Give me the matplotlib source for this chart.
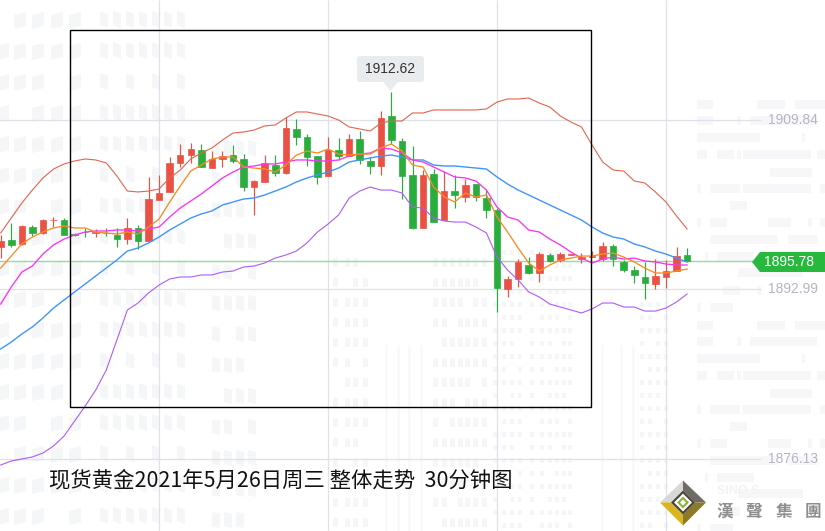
import matplotlib
matplotlib.use('Agg')
import matplotlib.pyplot as plt
from matplotlib.patches import Polygon, Rectangle, FancyBboxPatch

plt.rcParams['font.family'] = ['Noto Sans CJK SC', 'DejaVu Sans']

opens = [1897.20, 1897.89, 1897.50, 1899.19, 1898.56, 1899.88, 1899.88, 1898.46, 1898.72, 1898.61, 1898.64,
         1898.42, 1897.99, 1899.09, 1897.82, 1901.87, 1902.67, 1905.55, 1906.34, 1906.84, 1905.05, 1905.95,
         1906.34, 1905.95, 1903.16, 1903.66, 1905.35, 1904.55, 1908.93, 1908.13, 1906.24, 1904.26, 1906.84,
         1906.24, 1907.93, 1905.75, 1905.25, 1910.22, 1907.73, 1904.36, 1899.09, 1904.45, 1899.88, 1902.76,
         1902.17, 1903.46, 1902.07, 1900.88, 1893.02, 1894.02, 1895.41, 1894.61, 1896.40, 1895.91, 1896.43,
         1896.01, 1896.20, 1896.01, 1897.30, 1895.71, 1894.91, 1894.22, 1893.52, 1894.22, 1894.81, 1896.40]
closes = [1897.79, 1897.40, 1899.29, 1898.59, 1899.88, 1899.93, 1898.42, 1898.42, 1898.69, 1898.66, 1898.59,
          1898.02, 1899.09, 1897.82, 1901.97, 1902.57, 1905.55, 1906.34, 1906.94, 1905.18, 1905.95, 1906.24,
          1905.75, 1903.19, 1903.76, 1905.55, 1904.58, 1909.03, 1908.13, 1906.17, 1904.19, 1906.84, 1906.24,
          1907.93, 1905.85, 1905.25, 1910.02, 1907.83, 1904.26, 1899.09, 1904.36, 1899.68, 1902.76, 1902.37,
          1903.36, 1902.17, 1900.88, 1893.15, 1894.02, 1895.71, 1894.61, 1896.50, 1895.81, 1896.50, 1896.50,
          1896.20, 1896.30, 1897.30, 1896.01, 1894.91, 1894.42, 1893.62, 1894.32, 1894.81, 1896.30, 1895.78]
highs = [1898.39, 1899.58, 1899.39, 1899.39, 1899.98, 1900.18, 1900.08, 1898.59, 1899.06, 1898.99, 1899.09,
         1899.06, 1900.08, 1899.39, 1904.16, 1904.36, 1906.14, 1907.44, 1907.54, 1907.44, 1906.74, 1906.74,
         1907.34, 1906.44, 1903.86, 1906.34, 1906.34, 1910.15, 1909.92, 1908.43, 1906.24, 1908.10, 1908.03,
         1908.43, 1908.73, 1906.11, 1910.72, 1912.62, 1908.03, 1907.24, 1904.85, 1904.95, 1904.75, 1904.36,
         1903.96, 1903.46, 1902.86, 1901.07, 1894.32, 1896.00, 1896.20, 1896.70, 1896.60, 1896.70, 1896.50,
         1896.60, 1896.80, 1897.70, 1897.50, 1895.91, 1895.31, 1895.71, 1896.00, 1895.91, 1897.20, 1897.10]
lows = [1896.10, 1897.20, 1897.40, 1898.29, 1898.49, 1899.19, 1898.39, 1898.32, 1898.22, 1898.22, 1898.29,
        1897.23, 1897.50, 1896.97, 1897.72, 1901.87, 1902.67, 1905.18, 1905.58, 1905.18, 1905.05, 1905.18,
        1905.58, 1902.79, 1900.38, 1903.66, 1904.26, 1904.45, 1907.34, 1905.28, 1903.46, 1904.26, 1905.85,
        1906.24, 1905.45, 1904.45, 1904.36, 1907.44, 1901.97, 1898.99, 1899.09, 1899.68, 1899.88, 1901.07,
        1901.67, 1901.77, 1900.08, 1890.74, 1892.23, 1893.22, 1894.51, 1893.72, 1895.71, 1895.71, 1896.40,
        1895.61, 1896.20, 1895.81, 1895.31, 1894.71, 1893.62, 1892.03, 1893.02, 1893.12, 1894.81, 1895.78]

# bollinger bands and moving averages
upper = [1898.59, 1900.08, 1901.57, 1902.86, 1904.06, 1904.95, 1905.45, 1905.75, 1905.95, 1905.85, 1905.55,
         1904.26, 1902.76, 1902.67, 1902.76, 1902.96, 1904.06, 1904.85, 1905.95, 1906.54, 1907.04, 1907.83,
         1908.53, 1908.63, 1908.83, 1909.23, 1909.33, 1910.02, 1910.62, 1910.62, 1910.42, 1910.22, 1909.82,
         1909.13, 1908.93, 1908.73, 1909.52, 1909.72, 1909.72, 1910.52, 1910.52, 1910.82, 1910.82, 1910.82,
         1910.82, 1910.82, 1910.92, 1911.61, 1911.91, 1911.91, 1912.01, 1911.51, 1911.11, 1910.22, 1909.62,
         1909.13, 1907.34, 1905.65, 1904.85, 1904.75, 1903.76, 1903.56, 1902.67, 1901.67, 1900.28, 1898.99]
ma_fast = [1895.11, 1896.30, 1897.50, 1898.19, 1898.69, 1899.09, 1899.29, 1899.09, 1899.09, 1898.69, 1898.59,
           1898.49, 1898.69, 1898.49, 1899.19, 1899.98, 1901.67, 1903.26, 1904.75, 1905.35, 1905.95, 1906.14,
           1906.14, 1905.15, 1905.05, 1904.95, 1904.65, 1905.35, 1906.34, 1906.74, 1906.54, 1906.94, 1906.44,
           1906.34, 1906.44, 1906.44, 1907.04, 1907.44, 1906.74, 1905.35, 1905.15, 1903.16, 1902.17, 1901.67,
           1902.57, 1902.17, 1902.37, 1900.18, 1898.69, 1897.10, 1895.61, 1894.81, 1895.41, 1895.91, 1896.10,
           1896.30, 1896.30, 1896.50, 1896.60, 1896.20, 1895.71, 1895.11, 1894.61, 1894.61, 1894.81, 1895.01]
ma_mid = [1891.53, 1893.22, 1894.71, 1895.31, 1896.50, 1897.40, 1897.99, 1898.39, 1898.69, 1898.79, 1898.79,
          1898.89, 1898.89, 1898.79, 1898.99, 1899.19, 1900.18, 1901.07, 1901.77, 1902.47, 1903.26, 1904.06,
          1904.65, 1905.15, 1905.25, 1905.45, 1905.45, 1905.65, 1905.85, 1905.85, 1905.75, 1905.75, 1905.85,
          1906.24, 1906.44, 1906.54, 1907.04, 1906.94, 1906.54, 1905.85, 1905.65, 1905.15, 1904.65, 1904.16,
          1904.06, 1903.76, 1902.86, 1901.17, 1900.18, 1899.88, 1898.89, 1898.69, 1897.99, 1897.40, 1896.70,
          1896.10, 1895.61, 1896.00, 1896.20, 1896.00, 1896.10, 1895.81, 1895.71, 1895.51, 1895.41, 1895.41]
ma_slow = [1887.06, 1887.75, 1888.55, 1889.25, 1890.14, 1891.13, 1891.93, 1892.73, 1893.52, 1894.32, 1895.11,
           1895.91, 1896.80, 1897.10, 1897.60, 1898.19, 1898.89, 1899.48, 1900.08, 1900.48, 1900.78, 1901.37,
           1901.67, 1901.97, 1902.07, 1902.37, 1902.76, 1903.16, 1903.66, 1904.06, 1904.36, 1904.65, 1905.05,
           1905.65, 1905.85, 1906.05, 1906.24, 1906.34, 1906.14, 1905.85, 1905.85, 1905.35, 1905.25, 1905.25,
           1905.15, 1905.05, 1904.95, 1904.16, 1903.46, 1902.86, 1902.37, 1901.87, 1901.37, 1900.88, 1900.38,
           1899.88, 1899.19, 1898.59, 1898.19, 1897.99, 1897.50, 1897.20, 1896.80, 1896.50, 1896.10, 1895.71]
lower = [1875.53, 1875.93, 1876.13, 1876.33, 1876.72, 1877.42, 1878.41, 1879.90, 1881.39, 1882.98, 1884.97,
         1887.95, 1890.94, 1891.63, 1892.63, 1893.42, 1894.02, 1894.22, 1894.22, 1894.42, 1894.42, 1894.71,
         1894.81, 1895.21, 1895.31, 1895.61, 1896.10, 1896.40, 1896.80, 1897.60, 1898.69, 1899.48, 1900.38,
         1902.07, 1902.76, 1903.16, 1902.86, 1902.86, 1902.57, 1901.17, 1901.07, 1900.08, 1899.78, 1899.68,
         1899.68, 1899.19, 1898.59, 1896.20, 1894.91, 1893.92, 1892.73, 1892.23, 1891.53, 1891.23, 1890.94,
         1890.64, 1891.04, 1891.63, 1891.63, 1891.23, 1891.23, 1890.83, 1890.83, 1891.13, 1891.73, 1892.53]

y_ticks = [1909.84, 1892.99, 1876.13]
x_grid = [15, 31, 47, 63]
last_price = 1895.78
peak_price = 1912.62
title = '现货黄金2021年5月26日周三 整体走势  30分钟图'

RED = '#ea5145'
GREEN = '#29ad3c'
GRID = '#e0e0e8'
WATER = '#f5f6f8'

fig = plt.figure(figsize=(8.25, 5.31), dpi=100)

# pale building watermark, pixel coordinates
bg = fig.add_axes([0, 0, 1, 1], zorder=0)
bg.set_xlim(0, 825)
bg.set_ylim(531, 0)
bg.axis('off')


def window(x, y, w, h, slant=0.0):
    bg.add_patch(Polygon([(x, y + slant), (x + w, y), (x + w, y + h), (x, y + h + slant)],
                         fc=WATER, ec='none'))


for r, y in enumerate(range(12, 525, 31)):
    for c, x in enumerate([-3, 14, 32, 51, 69]):
        if (r * 3 + c * 5) % 7 != 0:
            window(x, y, 12, 14, 3)
    for c, x in enumerate([100, 113, 126, 139, 152, 164, 177]):
        if (r * 2 + c * 3) % 6 != 1:
            window(x, y + 2, 8, 14, -3)
    for c, x in enumerate([212, 224, 236, 248]):
        if (r + c * 2) % 5 != 2 and y > 120:
            window(x, y + 6, 8, 14, -2)
for r, y in enumerate(range(258, 525, 20)):
    for c, x in enumerate([333, 345, 353, 363, 433, 442, 450, 458, 465, 473, 482]):
        if (r * 2 + c) % 9 != 3:
            window(x, y, 5, 9)
for r, y in enumerate(range(250, 530, 13)):
    for c, x in enumerate([493, 502, 510, 518, 530, 540, 548, 555, 562, 568, 640, 648, 656, 664]):
        if (r + c * 2) % 8 != 5 and (x < 600 or y > 300):
            window(x, y, 4, 5)
for x in [385, 397, 408, 420, 601, 620, 632]:
    bg.add_patch(Rectangle((x, 345), 3, 186, fc='#f9f9fb', ec='none'))
bars = [(104, [(697, 16), (757, 28), (795, 30)]), (120, [(697, 16), (737, 4), (750, 67)]),
        (137, [(697, 63), (802, 3)]), (154, [(697, 10), (717, 17), (737, 4), (743, 68), (817, 8)]),
        (172, [(770, 42)]), (188, [(697, 4), (710, 30), (743, 68), (820, 5)]), (205, [(730, 17)]),
        (222, [(697, 4), (710, 17), (768, 23), (808, 4), (820, 5)]), (239, [(710, 68), (788, 30)]),
        (256, [(705, 3), (717, 37)]), (272, [(738, 65)]), (290, [(723, 17), (757, 4)]),
        (307, [(697, 4), (710, 23)])]
for offset in [0, 221]:
    for y, segs in bars:
        for x, w in segs:
            bg.add_patch(Rectangle((x, y + offset - 4), w, 9, fc='#f7f7f9', ec='none'))

# chart, price and candle index as data
ax = fig.add_axes([0, 0, 1, 1], zorder=1)
ax.patch.set_alpha(0)
ax.set_xlim(-0.066, 78.06)
ax.set_ylim(1868.97, 1921.75)
ax.axis('off')

idx = list(range(len(opens)))
ax.hlines(y_ticks, -1, 72, color=GRID, lw=0.9, zorder=1)
ax.vlines(x_grid, 1868.97, 1921.75, color=GRID, lw=0.9, zorder=1)
ax.hlines(last_price, -1, 71.2, color='#8fe096', lw=1, zorder=2)

for i in idx:
    col = RED if closes[i] >= opens[i] else GREEN
    ax.vlines(i, lows[i], highs[i], color=col, lw=0.85, zorder=3)
    ax.bar(i, abs(closes[i] - opens[i]), bottom=min(opens[i], closes[i]), width=0.62,
           color=col, edgecolor=col, lw=0.5, zorder=3)

ax.plot(idx, upper, color='#e4644f', lw=0.8, zorder=4)
ax.plot(idx, lower, color='#ac5cfb', lw=0.8, zorder=4)
ax.plot(idx, ma_slow, color='#3f95fb', lw=1, zorder=4)
ax.plot(idx, ma_mid, color='#fb33f5', lw=0.95, zorder=4)
ax.plot(idx, ma_fast, color='#fb8a24', lw=0.95, zorder=4)

for v in y_ticks:
    ax.text(72.7, v, '%.2f' % v, color='#b3b6c5', fontsize=10, va='center', ha='left',
            family='Liberation Sans')

# overlay: box, tag, tooltip, caption, logo
top = fig.add_axes([0, 0, 1, 1], zorder=2)
top.patch.set_alpha(0)
top.set_xlim(0, 825)
top.set_ylim(531, 0)
top.axis('off')

top.add_patch(Rectangle((69.5, 29.5), 521, 377, fc='none', ec='black', lw=1))

top.add_patch(Polygon([(752, 262), (760, 252), (825, 252), (825, 272), (760, 272)], fc='#29b83e', ec='none'))
top.text(789, 262, '%.2f' % last_price, color='white', fontsize=10, ha='center', va='center',
         family='Liberation Sans')

top.add_patch(FancyBboxPatch((359, 58), 63, 22, boxstyle='round,pad=2,rounding_size=3', fc='#e9ecef', ec='none'))
top.add_patch(Polygon([(383, 82), (398, 82), (390.5, 91)], fc='#e9ecef', ec='none'))
top.text(390.5, 69, '%.2f' % peak_price, color='#333333', fontsize=10, ha='center', va='center',
         family='Liberation Sans')

top.text(49, 480, title, color='#111111', fontsize=15.4, ha='left', va='center')

cx, cy = 683, 502.5
top.add_patch(Polygon([(cx, cy - 22), (cx - 23, cy), (cx - 12, cy), (cx, cy - 12)], fc='#d8d8d8', ec='none'))
top.add_patch(Polygon([(cx, cy - 22), (cx + 23, cy), (cx + 12, cy), (cx, cy - 12)], fc='#6e6a64', ec='none'))
top.add_patch(Polygon([(cx - 23, cy), (cx, cy + 23), (cx, cy + 12), (cx - 12, cy)], fc='#d9b51e', ec='none'))
top.add_patch(Polygon([(cx + 23, cy), (cx, cy + 23), (cx, cy + 12), (cx + 12, cy)], fc='#8c7a2a', ec='none'))
top.add_patch(Polygon([(cx, cy - 12), (cx + 12, cy), (cx, cy + 12), (cx - 12, cy)], fc='#4a4238', ec='none'))
top.add_patch(Polygon([(cx, cy - 9), (cx + 9, cy), (cx, cy + 9), (cx - 9, cy)], fc='white', ec='none'))
top.add_patch(Polygon([(cx, cy - 6), (cx + 6, cy), (cx, cy + 6), (cx - 6, cy)], fc='#8ab53a', ec='none'))
top.add_patch(Polygon([(cx, cy - 3), (cx + 3, cy), (cx, cy + 3), (cx - 3, cy)], fc='white', ec='none'))

top.text(717, 491, 'SINO S', color='#f3f3f3', fontsize=9, fontweight='bold', ha='left', va='center',
         family='Liberation Sans')
for x, ch in zip([725, 754, 784, 813], ['漢', '聲', '集', '團']):
    top.text(x, 512, ch, color='#8e8e8e', fontsize=12, fontweight='bold', ha='center', va='center',
             family=['Noto Sans CJK TC', 'DejaVu Sans'])

fig.savefig('out.png', dpi=100)
